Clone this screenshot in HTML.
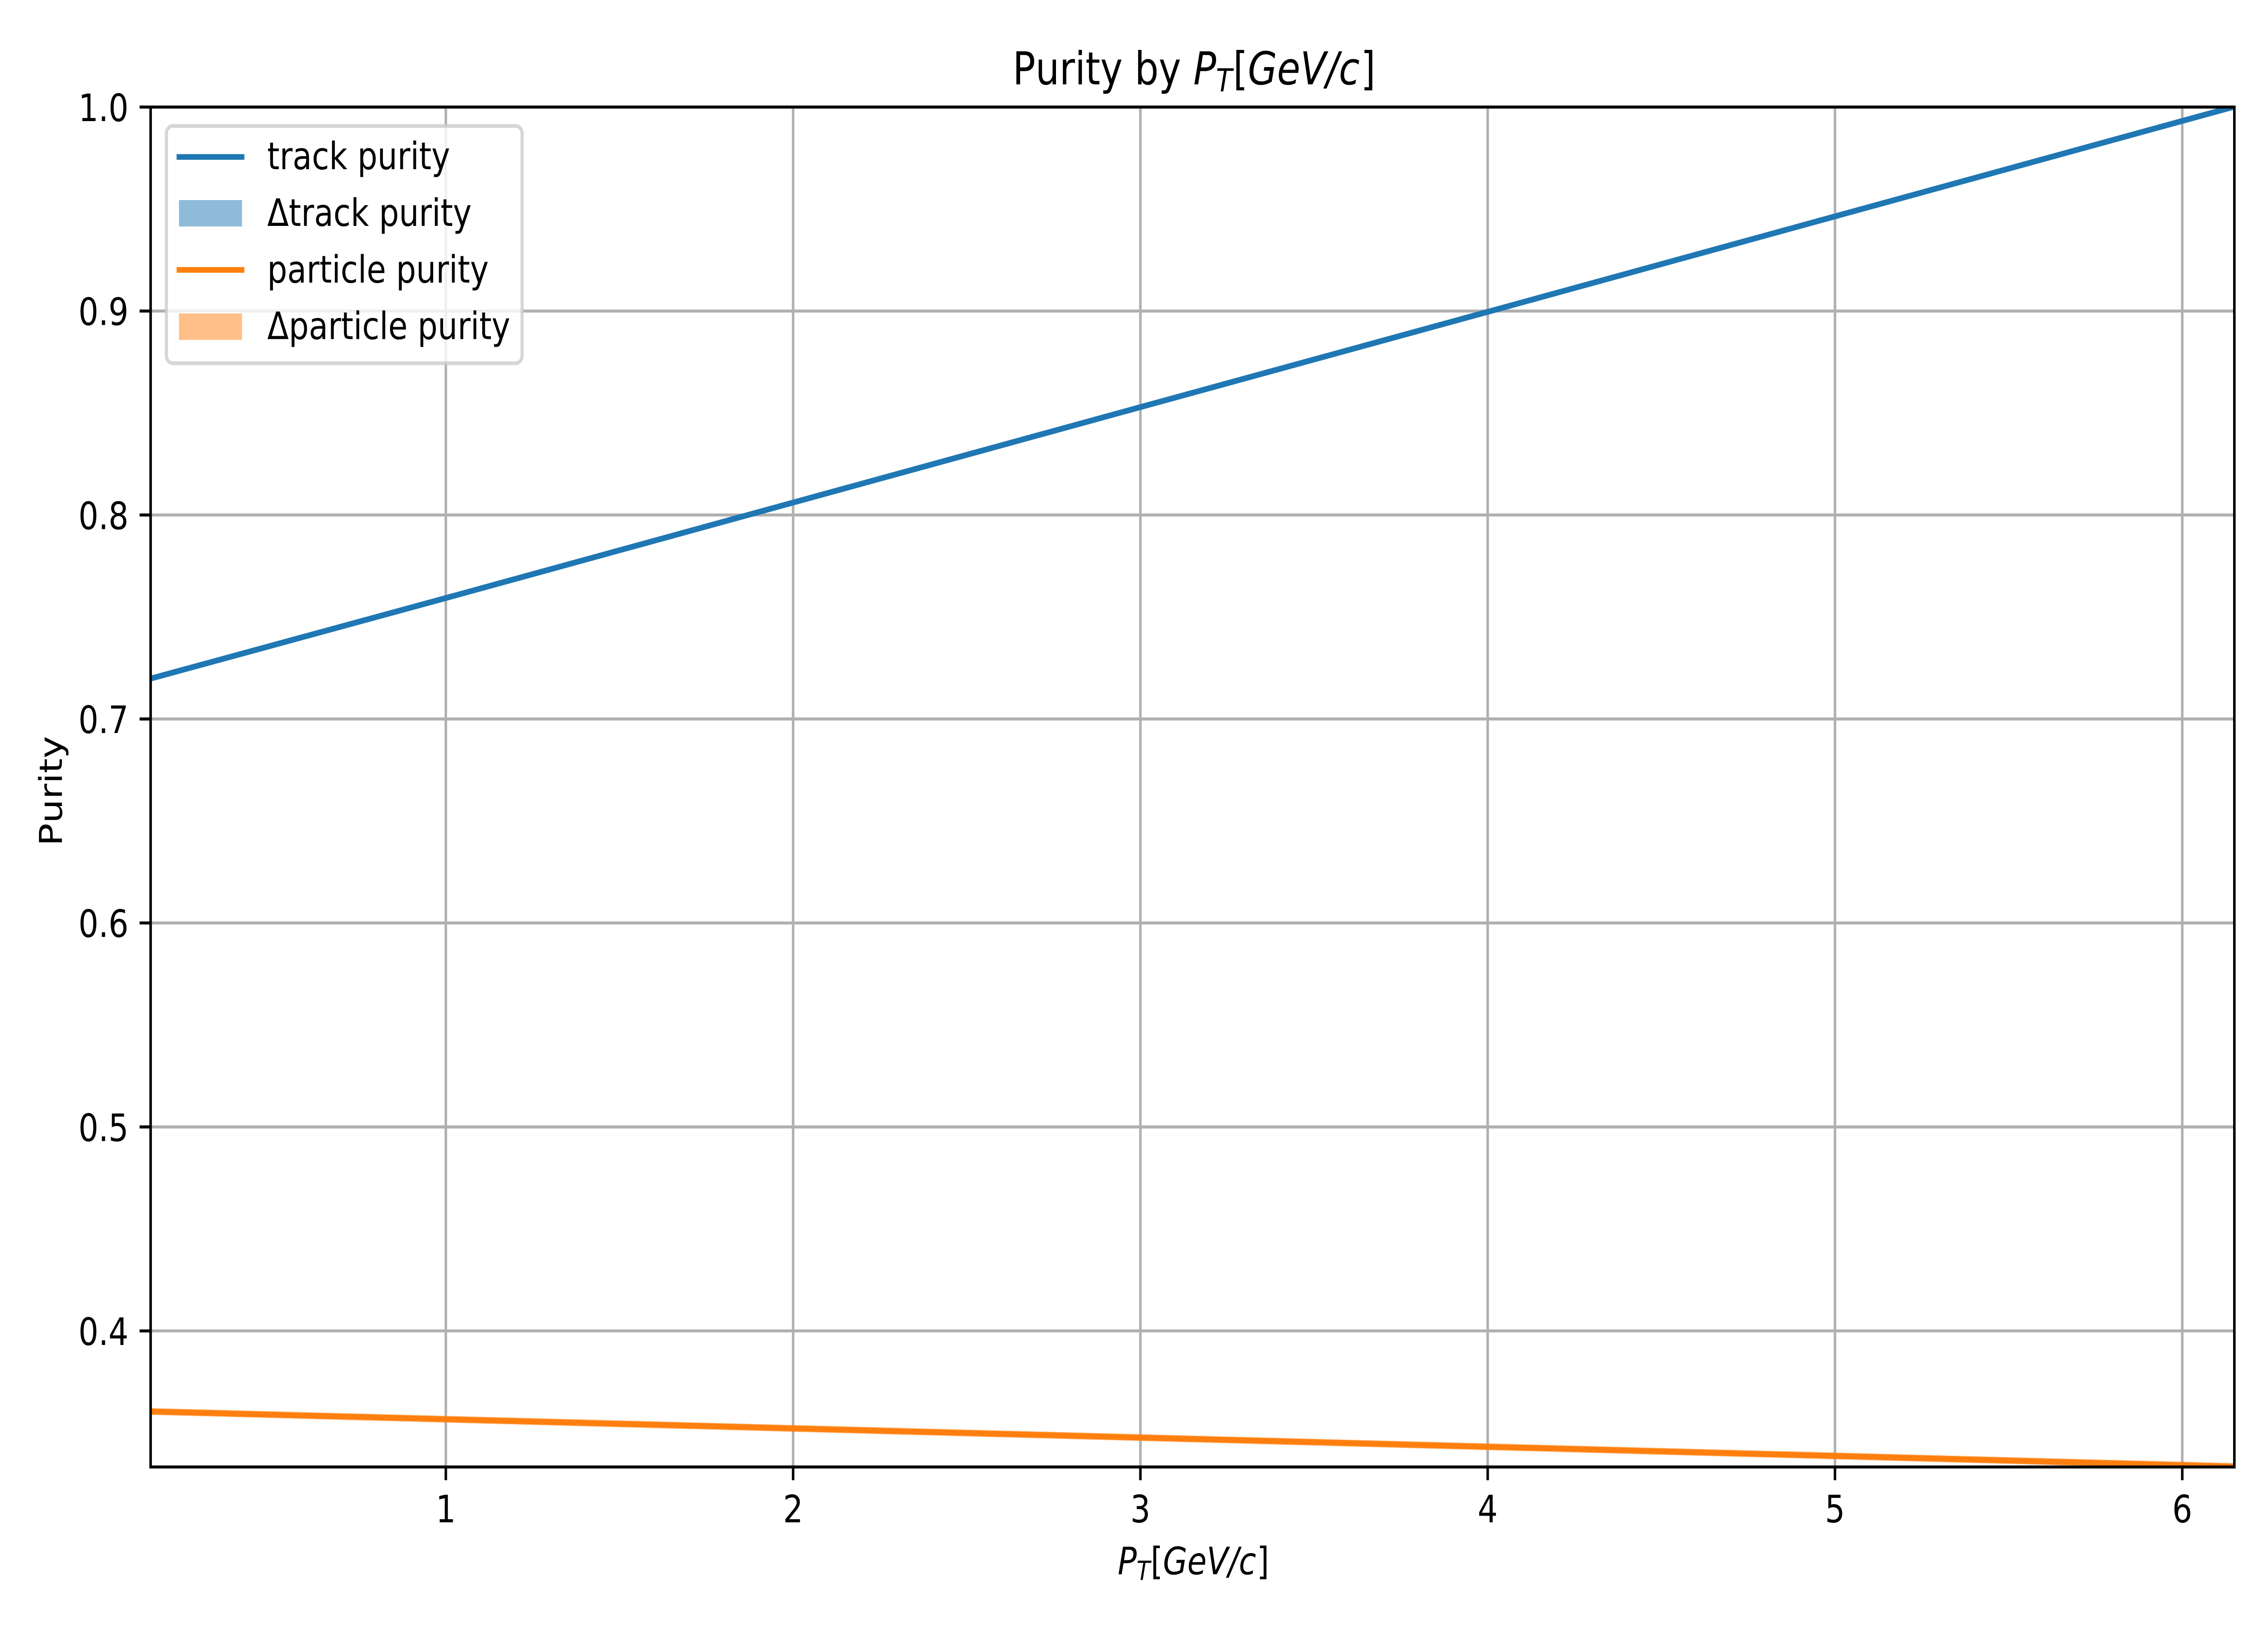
<!DOCTYPE html>
<html lang="en">
<head>
<meta charset="utf-8">
<title>Purity by PT</title>
<style>
html,body{margin:0;padding:0;width:100%;height:100%;background:#fff;overflow:hidden}
svg{display:block;width:100vw;height:100vh}
text{font-family:"DejaVu Sans","Liberation Sans",sans-serif;fill:#000;text-rendering:geometricPrecision;font-kerning:none}
.it{font-style:italic}
</style>
</head>
<body>
<svg id="chart" xmlns="http://www.w3.org/2000/svg" viewBox="0 0 6000 3600" preserveAspectRatio="none">
  <rect x="0" y="0" width="6000" height="3600" fill="#fff"/>
  <defs>
    <clipPath id="plot-clip"><rect x="398.5" y="236" width="5512.5" height="2998"/></clipPath>
  </defs>
  <rect x="398.5" y="236" width="5512.5" height="2998" fill="#fff"/>
  <g id="grid" clip-path="url(#plot-clip)"></g>
  <g id="ticks"></g>
  <g id="series" clip-path="url(#plot-clip)"></g>
  <g id="tick-labels"></g>
  <rect x="398.5" y="236" width="5512.5" height="2998" fill="none" stroke="#000" stroke-width="6.67" stroke-linejoin="miter"/>

  <text font-size="100" y="186"><tspan x="2679">Purity by </tspan><tspan class="it" x="3157">P</tspan><tspan class="it" x="3217" y="201.7" font-size="70">T</tspan><tspan x="3262" y="186">[</tspan><tspan class="it" x="3301">G</tspan><tspan class="it" x="3378.5">e</tspan><tspan class="it" x="3440">V</tspan><tspan class="it" x="3508">/</tspan><tspan class="it" x="3542">c</tspan><tspan x="3600">]</tspan></text>

  <text font-size="83.33" y="3470.7"><tspan class="it" x="2957">P</tspan><tspan class="it" x="3007" y="3483" font-size="58.33">T</tspan><tspan x="3044" y="3470.7">[</tspan><tspan class="it" x="3076.5">G</tspan><tspan class="it" x="3141">e</tspan><tspan class="it" x="3192.3">V</tspan><tspan class="it" x="3249.3">/</tspan><tspan class="it" x="3277.3">c</tspan><tspan x="3325">]</tspan></text>

  <text font-size="83.33" transform="translate(163.7 1865) rotate(-90)" x="0" y="0">Purity</text>

  <g>
    <rect x="440.2" y="277.7" width="941" height="523" rx="16.7" ry="16.7" fill="#fff" fill-opacity="0.8" stroke="#ccc" stroke-opacity="0.8" stroke-width="8.33"/>
    <g>
      <line x1="473.5" x2="640.2" y1="346" y2="346" stroke="#1f77b4" stroke-width="12.5" stroke-linecap="square"/>
      <text x="707" y="373" font-size="83.33">track purity</text>
    </g>
    <g>
      <rect x="473.5" y="441" width="166.7" height="58.3" fill="#1f77b4" fill-opacity="0.5"/>
      <text x="707" y="498" font-size="83.33">Δtrack purity</text>
    </g>
    <g>
      <line x1="473.5" x2="640.2" y1="595" y2="595" stroke="#ff7f0e" stroke-width="12.5" stroke-linecap="square"/>
      <text x="707" y="623" font-size="83.33">particle purity</text>
    </g>
    <g>
      <rect x="473.5" y="691" width="166.7" height="58.3" fill="#ff7f0e" fill-opacity="0.5"/>
      <text x="707" y="747.5" font-size="83.33">Δparticle purity</text>
    </g>
  </g>
</svg>
<script>
const ptValues = [0.15, 1, 2, 3, 4, 5, 6, 6.15];
const trackPurity = [0.7198, 0.7593, 0.8061, 0.8529, 0.8996, 0.9464, 0.9932, 1.0002];
const trackDelta = [0.0015, 0.0015, 0.0015, 0.0015, 0.0015, 0.0015, 0.0015, 0.0015];
const particlePurity = [0.3605, 0.3567, 0.3522, 0.3477, 0.3432, 0.3387, 0.3342, 0.3335];
const particleDelta = [0.0017, 0.0017, 0.0017, 0.0017, 0.0017, 0.0017, 0.0017, 0.0017];
const xTicks = [1, 2, 3, 4, 5, 6];
const yTicks = [0.4, 0.5, 0.6, 0.7, 0.8, 0.9, 1.0];
const xDomain = [0.15, 6.15];
const yDomain = [0.33329, 1.0];

const NS = 'http://www.w3.org/2000/svg';
const plot = { left: 398.5, right: 5911, top: 236, bottom: 3234 };
function xScale(v) {
  return plot.left + (v - xDomain[0]) / (xDomain[1] - xDomain[0]) * (plot.right - plot.left);
}
function yScale(v) {
  return plot.bottom - (v - yDomain[0]) / (yDomain[1] - yDomain[0]) * (plot.bottom - plot.top);
}
function make(tag, attrs, parent) {
  const el = document.createElementNS(NS, tag);
  for (const k in attrs) el.setAttribute(k, attrs[k]);
  parent.appendChild(el);
  return el;
}
const gridG = document.getElementById('grid');
const ticksG = document.getElementById('ticks');
const labelsG = document.getElementById('tick-labels');
const seriesG = document.getElementById('series');

xTicks.forEach(function (t) {
  const x = xScale(t);
  const g = make('line', { x1: x, x2: x, y1: plot.top, y2: plot.bottom, stroke: '#b0b0b0', 'stroke-width': 6.67 }, gridG);
  
  
  const m = make('line', { x1: x, x2: x, y1: plot.bottom, y2: plot.bottom + 29.2, stroke: '#000', 'stroke-width': 6.67 }, ticksG);
  
  
  const l = make('text', { x: x, y: 3356, 'font-size': 83.33, 'text-anchor': 'middle' }, labelsG);
  l.textContent = String(t);
  
  
});

yTicks.forEach(function (t) {
  const y = yScale(t);
  const label = t.toFixed(1);
  const g = make('line', { x1: plot.left, x2: plot.right, y1: y, y2: y, stroke: '#b0b0b0', 'stroke-width': 6.67 }, gridG);
  
  
  const m = make('line', { x1: plot.left - 29.2, x2: plot.left, y1: y, y2: y, stroke: '#000', 'stroke-width': 6.67 }, ticksG);
  
  
  const l = make('text', { x: 340, y: y + 31, 'font-size': 83.33, 'text-anchor': 'end' }, labelsG);
  l.textContent = label;
  
  
});

function linePath(xs, ys) {
  return xs.map(function (v, i) {
    return (i ? 'L' : 'M') + xScale(v).toFixed(2) + ' ' + yScale(ys[i]).toFixed(2);
  }).join(' ');
}
function bandPath(xs, ys, ds) {
  const upper = xs.map(function (v, i) {
    return (i ? 'L' : 'M') + xScale(v).toFixed(2) + ' ' + yScale(ys[i] + ds[i]).toFixed(2);
  });
  const lower = xs.map(function (v, i) {
    return 'L' + xScale(v).toFixed(2) + ' ' + yScale(ys[i] - ds[i]).toFixed(2);
  }).reverse();
  return upper.concat(lower).join(' ') + ' Z';
}

const trackBand = make('path', { d: bandPath(ptValues, trackPurity, trackDelta), fill: '#1f77b4', 'fill-opacity': 0.5 }, seriesG);



const trackLine = make('path', { d: linePath(ptValues, trackPurity), fill: 'none', stroke: '#1f77b4', 'stroke-width': 12.5, 'stroke-linecap': 'square', 'stroke-linejoin': 'round' }, seriesG);



const particleBand = make('path', { d: bandPath(ptValues, particlePurity, particleDelta), fill: '#ff7f0e', 'fill-opacity': 0.5 }, seriesG);



const particleLine = make('path', { d: linePath(ptValues, particlePurity), fill: 'none', stroke: '#ff7f0e', 'stroke-width': 12.5, 'stroke-linecap': 'square', 'stroke-linejoin': 'round' }, seriesG);


</script>
</body>
</html>
